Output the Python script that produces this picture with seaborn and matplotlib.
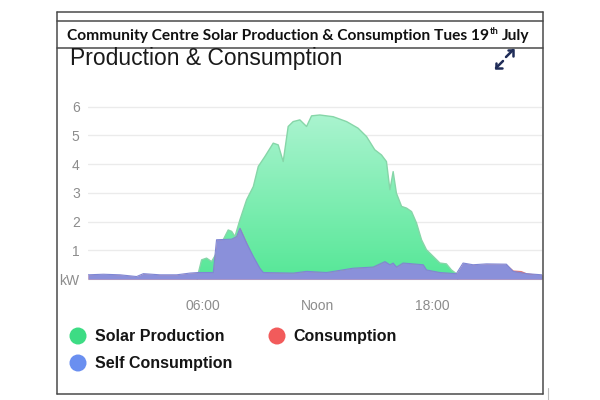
import numpy as np
import pandas as pd
import matplotlib
matplotlib.use("Agg")
import matplotlib.pyplot as plt
import seaborn as sns
from matplotlib.patches import Circle
from matplotlib.colors import LinearSegmentedColormap

# ---------------- data ----------------
solar_hours = [5.70, 5.76, 5.93, 6.19, 6.45, 6.71, 7.06, 7.32, 7.50, 7.67, 7.93, 8.28, 8.63,
               8.89, 9.23, 9.67, 9.93, 10.19, 10.45, 10.71, 11.06, 11.41, 11.67, 12.10, 12.80,
               13.50, 14.10, 14.54, 14.97, 15.32, 15.58, 15.76, 15.93, 16.10, 16.37, 16.63,
               16.89, 17.15, 17.41, 17.67, 18.02, 18.37, 18.71, 18.97, 19.23, 19.30]
solar_kw = [0.00, 0.21, 0.67, 0.73, 0.61, 0.90, 1.37, 1.71, 1.66, 1.48, 2.06, 2.76, 3.22,
            3.92, 4.26, 4.73, 4.67, 4.09, 5.31, 5.48, 5.54, 5.31, 5.68, 5.71, 5.65,
            5.48, 5.25, 4.96, 4.50, 4.32, 4.09, 3.11, 3.74, 2.99, 2.53, 2.47,
            2.35, 1.95, 1.37, 1.02, 0.79, 0.56, 0.53, 0.32, 0.19, 0.00]

self_hours = [0.00, 0.80, 1.67, 2.54, 2.89, 3.76, 4.63, 5.32, 5.76, 6.54, 6.71, 7.50, 7.76,
              7.93, 8.28, 8.63, 8.97, 9.15, 10.71, 11.41, 12.45, 13.84, 14.89, 15.50, 15.76,
              15.93, 16.10, 16.45, 17.50, 17.67, 18.37, 19.23, 19.58, 20.10, 20.80, 21.84,
              22.19, 22.89, 23.70]
self_kw = [0.15, 0.17, 0.15, 0.09, 0.19, 0.15, 0.15, 0.21, 0.23, 0.23, 1.37, 1.39, 1.48,
           1.77, 1.25, 0.79, 0.38, 0.23, 0.21, 0.27, 0.23, 0.38, 0.42, 0.61, 0.50,
           0.56, 0.42, 0.56, 0.50, 0.32, 0.23, 0.19, 0.56, 0.50, 0.53, 0.52,
           0.27, 0.19, 0.15]

cons_hours = [0.00, 0.80, 1.67, 2.54, 2.89, 3.76, 4.63, 5.32, 5.76, 6.54, 6.71, 7.50, 7.76,
              7.93, 8.10, 8.40, 8.75, 9.05, 9.20, 10.71, 11.41, 12.45, 13.84, 14.89, 15.50,
              15.76, 15.93, 16.10, 16.45, 17.50, 17.67, 18.37, 19.23, 19.58, 20.10, 20.80,
              21.84, 22.19, 22.60, 22.89, 23.70]
cons_kw = [0.15, 0.17, 0.15, 0.09, 0.19, 0.15, 0.15, 0.21, 0.23, 0.23, 1.37, 1.39, 1.48,
           1.80, 1.55, 1.10, 0.60, 0.30, 0.23, 0.21, 0.27, 0.23, 0.38, 0.42, 0.61,
           0.50, 0.56, 0.42, 0.56, 0.50, 0.32, 0.23, 0.19, 0.56, 0.50, 0.53,
           0.52, 0.32, 0.30, 0.22, 0.15]

tick_hours = [6, 12, 18]
tick_labels = ["06:00", "Noon", "18:00"]
ytick_values = [0, 1, 2, 3, 4, 5, 6]
ytick_labels = ["kW", "1", "2", "3", "4", "5", "6"]
legend_labels = ["Solar Production", "Consumption", "Self Consumption"]
legend_colors = ["#3ddc84", "#f25b5b", "#6a8ff0"]
title_text = "Community Centre Solar Production & Consumption Tues 19"
heading_text = "Production & Consumption"

# ---------------- style ----------------
sns.set_theme(style="white")
plt.rcParams['font.family'] = ['Liberation Sans', 'DejaVu Sans']

fig = plt.figure(figsize=(6, 4), dpi=100)
fig.patch.set_facecolor("white")

# chart axes (pixel geometry: x 88..542, y(0 kW)=279)
ax_bottom_px, ax_top_px = 282, 100.9
ax = fig.add_axes([88 / 600, (400 - ax_bottom_px) / 400, (542 - 88) / 600,
                   (ax_bottom_px - ax_top_px) / 400])
ax.set_facecolor("white")

# solar production (gradient fill)
poly = ax.fill_between(solar_hours, 0, solar_kw, color="none", lw=0)
grad = np.linspace(0, 1, 256).reshape(-1, 1)
cmap = LinearSegmentedColormap.from_list("g", ["#56e797", "#abf4d0"])
im = ax.imshow(grad, extent=[0, 23.7, 0, 5.75], origin="lower", aspect="auto",
               cmap=cmap, zorder=1, interpolation="bilinear")
im.set_clip_path(poly.get_paths()[0], ax.transData)
sns.lineplot(x=solar_hours, y=solar_kw, color="#86d6a8", lw=1.0, ax=ax, zorder=2,
             sort=False)

# consumption (red) then self consumption (blue)
ax.fill_between(cons_hours, 0, cons_kw, color="#e07a78", lw=0, zorder=3)
ax.fill_between(self_hours, 0, self_kw, color="#8a90da", lw=0, zorder=4)
sns.lineplot(x=self_hours, y=self_kw, color="#7e86d4", lw=0.8, ax=ax, zorder=5,
             sort=False)

ax.set_xlim(0, 23.7)
ax.set_ylim(-0.1, 6.2)
ax.set_xticks(tick_hours)
ax.set_xticklabels(tick_labels, color="#8c8c8c", fontsize=10)
ax.set_yticks(ytick_values)
ax.set_yticklabels(ytick_labels, color="#8c8c8c", fontsize=10)
ax.tick_params(axis="x", length=0, pad=12)
ax.tick_params(axis="y", length=0, pad=6)
ax.yaxis.grid(True, color="#ebebeb", lw=1)
ax.set_axisbelow(True)
ax.set_xlabel("")
ax.set_ylabel("")
for s in ax.spines.values():
    s.set_visible(False)

# ---------------- overlay in pixel coordinates ----------------
ov = fig.add_axes([0, 0, 1, 1], zorder=10)
ov.set_xlim(0, 600)
ov.set_ylim(400, 0)
ov.axis("off")

border = "#4a4a4a"
ov.plot([57, 542.5], [12, 12], color=border, lw=1.1)
ov.plot([57, 542.5], [21, 21], color=border, lw=1.1)
ov.plot([57, 542.5], [48, 48], color=border, lw=1.1)
ov.plot([57, 542.5], [394, 394], color=border, lw=1.1)
ov.plot([57, 57], [12, 394], color=border, lw=1.1)
ov.plot([542.5, 542.5], [12, 394], color=border, lw=1.1)
ov.plot([548, 548], [388, 400], color="#bbbbbb", lw=0.8)

renderer = fig.canvas.get_renderer()


def fit(t, target_w):
    bb = t.get_window_extent(renderer)
    t.set_fontsize(t.get_fontsize() * target_w / bb.width)


# title with superscript
t1 = ov.text(67, 36, title_text, fontsize=10, fontweight="bold", va="center", ha="left",
             family=["Lato", "DejaVu Sans"], color="#111111")
fit(t1, 420)
bb1 = t1.get_window_extent(renderer)
t2 = ov.text(bb1.x1 + 0.5, 32, "th", fontsize=t1.get_fontsize() * 0.6, fontweight="bold",
             va="center", ha="left", family=["Lato", "DejaVu Sans"], color="#111111")
bb2 = t2.get_window_extent(renderer)
ov.text(bb2.x1 + 3.5, 36, "July", fontsize=t1.get_fontsize(), fontweight="bold",
        va="center", ha="left", family=["Lato", "DejaVu Sans"], color="#111111")

# heading
th = ov.text(70, 58, heading_text, fontsize=15, va="center", ha="left", color="#1a1a1a")
fit(th, 273)

# expand icon (two diagonal arrows)
icon = "#1f2c58"
ov.plot([506, 513], [57, 50], color=icon, lw=1.8, solid_capstyle="round")
ov.plot([507.5, 513, 513], [50, 50, 55.5], color=icon, lw=1.8, solid_capstyle="round",
        solid_joinstyle="miter")
ov.plot([503, 496], [61, 68], color=icon, lw=1.8, solid_capstyle="round")
ov.plot([496, 496, 501.5], [62.5, 68, 68], color=icon, lw=1.8, solid_capstyle="round",
        solid_joinstyle="miter")

# legend
leg_pos = [(78, 336, 95), (277, 336, 293), (78, 363, 95)]
for (cx, cy, tx), lab, col in zip(leg_pos, legend_labels, legend_colors):
    ov.add_patch(Circle((cx, cy), 8.5, color=col, lw=0))
    ov.text(tx, cy + 0.5, lab, fontsize=11.5, fontweight="bold", va="center", ha="left",
            color="#151515")

fig.savefig("out.png", dpi=100)
